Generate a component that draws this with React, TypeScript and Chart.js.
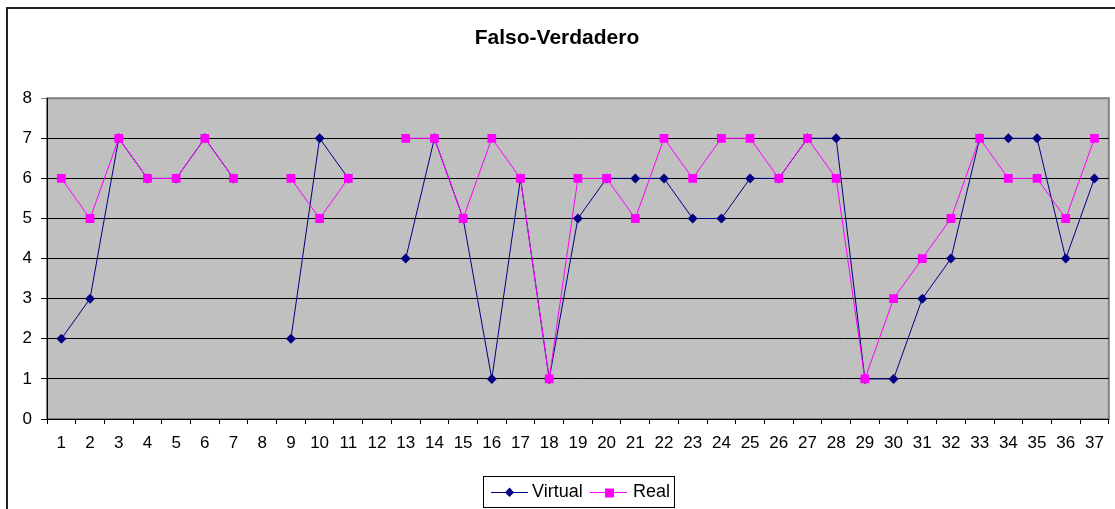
import React, { useEffect, useRef } from "react";
import { Chart, registerables } from "chart.js";

Chart.register(...registerables);

const categories = ["1","2","3","4","5","6","7","8","9","10","11","12","13","14","15","16","17","18","19","20","21","22","23","24","25","26","27","28","29","30","31","32","33","34","35","36","37"];
const virtualValues: (number | null)[] = [2,3,7,6,6,7,6,null,2,7,6,null,4,7,5,1,6,1,5,6,6,6,5,5,6,6,7,7,1,1,3,4,7,7,7,4,6];
const realValues: (number | null)[] = [6,5,7,6,6,7,6,null,6,5,6,null,7,7,5,7,6,1,6,6,5,7,6,7,7,6,7,6,1,3,4,5,7,6,6,5,7];
const titleText = "Falso-Verdadero";
const seriesNames = ["Virtual", "Real"];

const FONT = "'Liberation Sans', Arial, sans-serif";
const NAVY = "#000080";
const MAGENTA = "#FF00FF";

const framePlugin = {
  id: "frameAndPlot",
  beforeDraw(chart: any) {
    const { ctx, chartArea } = chart;
    ctx.save();
    ctx.fillStyle = "#ffffff";
    ctx.fillRect(0, 0, chart.width, chart.height);
    ctx.strokeStyle = "#222222";
    ctx.lineWidth = 2;
    ctx.strokeRect(7, 8, chart.width + 10, chart.height + 10);
    ctx.fillStyle = "#C0C0C0";
    ctx.fillRect(chartArea.left, chartArea.top, chartArea.right - chartArea.left, chartArea.bottom - chartArea.top);
    ctx.strokeStyle = "#808080";
    ctx.lineWidth = 2;
    ctx.strokeRect(chartArea.left, chartArea.top, chartArea.right - chartArea.left, chartArea.bottom - chartArea.top);
    ctx.restore();
  },
  afterDraw(chart: any) {
    const { ctx } = chart;
    ctx.save();
    const bx = 483, by = 476, bw = 191, bh = 31;
    ctx.fillStyle = "#ffffff";
    ctx.fillRect(bx, by, bw, bh);
    ctx.strokeStyle = "#000000";
    ctx.lineWidth = 1;
    ctx.strokeRect(bx + 0.5, by + 0.5, bw, bh);
    const cy = 492;
    ctx.font = "18px " + FONT;
    ctx.textBaseline = "middle";
    ctx.textAlign = "left";
    ctx.strokeStyle = NAVY;
    ctx.beginPath();
    ctx.moveTo(491, cy + 0.5);
    ctx.lineTo(528, cy + 0.5);
    ctx.stroke();
    ctx.fillStyle = NAVY;
    ctx.beginPath();
    ctx.moveTo(509.5, cy - 4.5);
    ctx.lineTo(514, cy + 0.5);
    ctx.lineTo(509.5, cy + 5);
    ctx.lineTo(505, cy + 0.5);
    ctx.closePath();
    ctx.fill();
    ctx.fillStyle = "#000000";
    ctx.fillText(seriesNames[0], 532, cy);
    ctx.strokeStyle = MAGENTA;
    ctx.beginPath();
    ctx.moveTo(590, cy + 0.5);
    ctx.lineTo(627, cy + 0.5);
    ctx.stroke();
    ctx.fillStyle = MAGENTA;
    ctx.fillRect(605, cy - 3.5, 9, 9);
    ctx.fillStyle = "#000000";
    ctx.fillText(seriesNames[1], 633, cy);
    ctx.restore();
  },
};

export default function App() {
  const ref = useRef<HTMLCanvasElement | null>(null);
  useEffect(() => {
    if (!ref.current) return;
    const chart = new Chart(ref.current, {
      type: "line",
      data: {
        labels: categories,
        datasets: [
          {
            label: seriesNames[0],
            data: virtualValues,
            borderColor: NAVY,
            backgroundColor: NAVY,
            borderWidth: 1,
            pointStyle: "rectRot",
            pointRadius: 5,
            pointBackgroundColor: NAVY,
            pointBorderColor: NAVY,
            pointBorderWidth: 0,
            spanGaps: false,
            tension: 0,
            order: 2,
          },
          {
            label: seriesNames[1],
            data: realValues,
            borderColor: MAGENTA,
            backgroundColor: MAGENTA,
            borderWidth: 1,
            pointStyle: "rect",
            pointRadius: 6.2,
            pointBackgroundColor: MAGENTA,
            pointBorderColor: MAGENTA,
            pointBorderWidth: 0,
            spanGaps: false,
            tension: 0,
            order: 1,
          },
        ],
      },
      options: {
        responsive: false,
        animation: false,
        layout: { padding: { left: 0, right: 1, top: 0, bottom: 0 } },
        plugins: {
          legend: { display: false },
          tooltip: { enabled: false },
          title: {
            display: true,
            text: titleText,
            color: "#000000",
            font: { family: FONT, size: 21, weight: "bold", lineHeight: 1.2 },
            padding: { top: 26, bottom: 47 },
          },
        },
        scales: {
          x: {
            type: "category",
            offset: true,
            afterFit: (s: any) => { s.height = 90; },
            grid: {
              offset: true,
              drawOnChartArea: false,
              drawTicks: true,
              tickLength: 5,
              color: "#000000",
              lineWidth: 1,
            },
            border: { display: true, color: "#000000", width: 1 },
            ticks: {
              color: "#000000",
              font: { family: FONT, size: 17 },
              padding: 9,
              maxRotation: 0,
              autoSkip: false,
            },
          },
          y: {
            min: 0,
            max: 8,
            afterFit: (s: any) => { s.width = 47; },
            grid: {
              color: (c: any) => (c.tick && c.tick.value === 8 ? "#808080" : "#000000"),
              lineWidth: 1,
              drawTicks: true,
              tickLength: 6,
            },
            border: { display: true, color: "#000000", width: 1 },
            ticks: {
              stepSize: 1,
              color: "#000000",
              font: { family: FONT, size: 17 },
              padding: 9,
            },
          },
        },
      },
      plugins: [framePlugin],
    });
    return () => chart.destroy();
  }, []);
  return (
    <div style={{ position: "absolute", left: 0, top: 0, width: 1115, height: 509 }}>
      <canvas ref={ref} width={1115} height={509} style={{ width: 1115, height: 509, display: "block" }} />
    </div>
  );
}
